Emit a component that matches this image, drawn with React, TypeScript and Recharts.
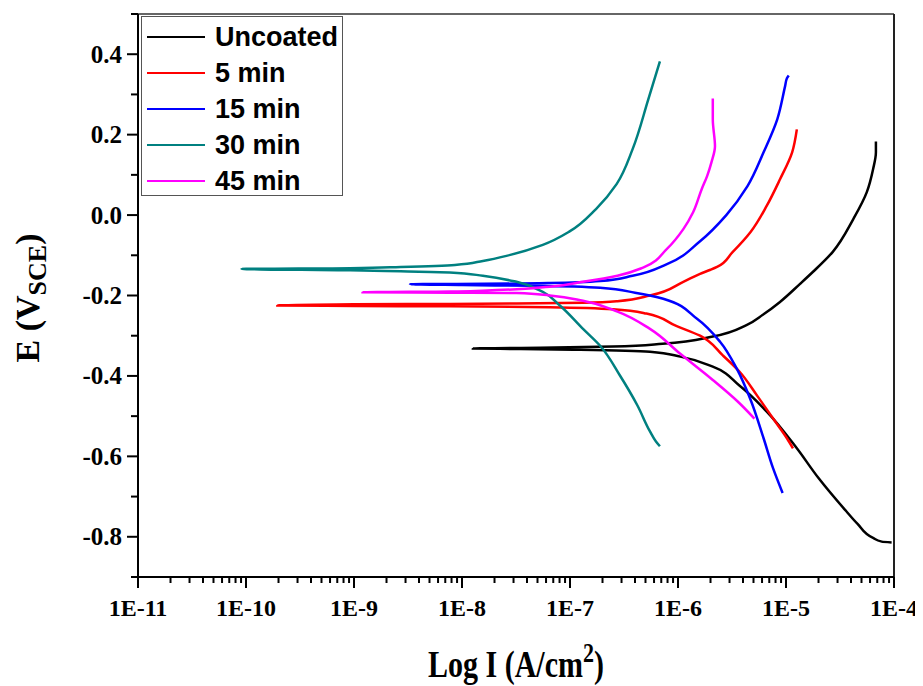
import React from "react";
import { LineChart, Line, XAxis, YAxis, ReferenceLine, Label } from "recharts";

// Tafel polarisation curves, each read as [current density (A/cm²), potential (V vs SCE)]
// order: top of anodic branch -> corrosion potential -> end of cathodic branch
type Pt = [number, number];

const uncoated: Pt[] = [
  [6.8e-5, 0.183], [6.8e-5, 0.156], [6.4e-5, 0.114], [5.6e-5, 0.057], [4.2e-5, -0.01],
  [2.7e-5, -0.092], [1.78e-5, -0.141], [1.35e-5, -0.171], [8.8e-6, -0.216], [6.1e-6, -0.248],
  [4.35e-6, -0.273], [2.1e-6, -0.302], [7.2e-7, -0.32], [2.5e-7, -0.327], [5.3e-8, -0.33],
  [1.26e-8, -0.332], [3.5e-8, -0.333], [1.24e-7, -0.335], [5.5e-7, -0.34], [1.05e-6, -0.352],
  [2.1e-6, -0.377], [3.7e-6, -0.424], [6.6e-6, -0.488], [1.26e-5, -0.58], [2.0e-5, -0.654],
  [3.6e-5, -0.736], [4.6e-5, -0.768], [6.4e-5, -0.803], [7.7e-5, -0.812], [9.5e-5, -0.814],
];

const min5: Pt[] = [
  [1.26e-5, 0.213], [1.14e-5, 0.156], [8.8e-6, 0.089], [6.6e-6, 0.022], [4.7e-6, -0.042],
  [3.2e-6, -0.092], [2.3e-6, -0.129], [2.0e-6, -0.136], [1.6e-6, -0.146], [1.12e-6, -0.166],
  [5.5e-7, -0.2], [2.75e-7, -0.214], [1.32e-7, -0.218], [3.2e-8, -0.22], [7.8e-9, -0.221],
  [1e-9, -0.222], [1.95e-10, -0.225], [1e-9, -0.226], [7.8e-9, -0.227], [6.5e-8, -0.229],
  [2.5e-7, -0.234], [5.1e-7, -0.245], [9.5e-7, -0.275], [1.6e-6, -0.3], [2.6e-6, -0.349],
  [3.7e-6, -0.389], [5.4e-6, -0.449], [7.6e-6, -0.506], [1.02e-5, -0.555], [1.16e-5, -0.58],
];

const min15: Pt[] = [
  [1.06e-5, 0.347], [1.02e-5, 0.34], [9.8e-6, 0.32], [8.3e-6, 0.238], [6.2e-6, 0.156],
  [4.4e-6, 0.072], [2.8e-6, 0.0], [1.6e-6, -0.065], [7.9e-7, -0.122], [3.8e-7, -0.151],
  [1.9e-7, -0.164], [6.5e-8, -0.169], [1.6e-8, -0.171], [3.3e-9, -0.172], [1e-8, -0.174],
  [4.6e-8, -0.176], [1.9e-7, -0.181], [4.0e-7, -0.193], [7.3e-7, -0.208], [1.5e-6, -0.258],
  [2.45e-6, -0.315], [3.5e-6, -0.382], [4.65e-6, -0.456], [6.2e-6, -0.555], [7.6e-6, -0.63],
  [9.3e-6, -0.691],
];

const min30: Pt[] = [
  [6.8e-7, 0.382], [5.3e-7, 0.287], [3.8e-7, 0.164], [2.7e-7, 0.077], [1.74e-7, 0.015],
  [1.0e-7, -0.04], [5.6e-8, -0.074], [2.8e-8, -0.099], [1.56e-8, -0.114], [8.6e-9, -0.124],
  [2.7e-9, -0.129], [9.2e-10, -0.132], [9.1e-11, -0.134], [9.2e-10, -0.1375], [2.7e-9, -0.14],
  [7.7e-9, -0.1425], [1.56e-8, -0.151], [3.2e-8, -0.166], [5.6e-8, -0.191], [8.1e-8, -0.2255],
  [1.32e-7, -0.283], [1.9e-7, -0.325], [2.9e-7, -0.399], [4.2e-7, -0.473], [5.5e-7, -0.538],
  [6.25e-7, -0.563], [6.8e-7, -0.575],
];

const min45: Pt[] = [
  [2.1e-6, 0.29], [2.1e-6, 0.238], [2.2e-6, 0.171], [2.04e-6, 0.131], [1.86e-6, 0.097],
  [1.66e-6, 0.065], [1.38e-6, 0.007], [1.12e-6, -0.035], [7.9e-7, -0.084], [4.8e-7, -0.13],
  [2.75e-7, -0.151], [1.32e-7, -0.166], [6.5e-8, -0.178], [1.55e-8, -0.188], [7.8e-9, -0.19],
  [1.2e-9, -0.192], [7.8e-9, -0.193], [3.2e-8, -0.194], [6.5e-8, -0.2], [1.32e-7, -0.213],
  [2.75e-7, -0.24], [5.5e-7, -0.283], [1.05e-6, -0.345], [2.1e-6, -0.41], [3.55e-6, -0.463],
  [5.1e-6, -0.506],
];

const seriesNames = ["Uncoated", "5 min", "15 min", "30 min", "45 min"];
const seriesColors = ["#000000", "#ff0000", "#0000ff", "#008080", "#ff00ff"];
const seriesPoints = [uncoated, min5, min15, min30, min45];

const xMajorTicks = [1e-11, 1e-10, 1e-9, 1e-8, 1e-7, 1e-6, 1e-5, 1e-4];
const xMajorLabels = ["1E-11", "1E-10", "1E-9", "1E-8", "1E-7", "1E-6", "1E-5", "1E-4"];
const xMinorSteps = [2, 3, 4, 5, 6, 7, 8, 9];

const yMajorTicks = [-0.8, -0.6, -0.4, -0.2, 0, 0.2, 0.4];
const yMinorTicks = [-0.9, -0.7, -0.5, -0.3, -0.1, 0.1, 0.3, 0.5];

const xTicks = xMajorTicks.flatMap((d, k) =>
  k < xMajorTicks.length - 1 ? [d, ...xMinorSteps.map((m) => m * d)] : [d]
);
const yTicks = [...yMajorTicks, ...yMinorTicks].sort((a, b) => a - b);

const SERIF = "'Liberation Serif', 'Times New Roman', serif";
const SANS = "'Liberation Sans', Arial, sans-serif";

const XTick = (props: any) => {
  const { x, y, payload } = props;
  const k = xMajorTicks.indexOf(payload.value);
  const major = k >= 0;
  return (
    <g>
      <line x1={x} x2={x} y1={y} y2={y + (major ? 11 : 6)} stroke="#000" strokeWidth={2} />
      {major && (
        <text x={x} y={y + 39} textAnchor="middle" fontFamily={SERIF} fontWeight="bold" fontSize={24} fill="#000">
          {xMajorLabels[k]}
        </text>
      )}
    </g>
  );
};

const YTick = (props: any) => {
  const { x, y, payload } = props;
  const major = yMajorTicks.includes(payload.value);
  return (
    <g>
      <line x1={x - (major ? 11 : 7)} x2={x} y1={y} y2={y} stroke="#000" strokeWidth={2} />
      {major && (
        <text x={x - 16} y={y} dy="0.34em" textAnchor="end" fontFamily={SERIF} fontWeight="bold" fontSize={25} fill="#000">
          {payload.value.toFixed(1)}
        </text>
      )}
    </g>
  );
};

const XTitle = (props: any) => {
  const vb = props.viewBox || { x: 130, y: 569, width: 756 };
  const cx = vb.x + vb.width / 2;
  const by = vb.y + 100;
  return (
    <text transform={`translate(${cx} ${by}) scale(1 1.25)`} textAnchor="middle" fontFamily={SERIF} fontWeight="bold" fontSize={30} fill="#000">
      Log I (A/cm
      <tspan fontSize={22} dy={-12}>2</tspan>
      <tspan dy={12}>)</tspan>
    </text>
  );
};

const YTitle = () => (
  <text x={31} y={290} transform="rotate(-90 31 290)" textAnchor="middle" fontFamily={SERIF} fontWeight="bold" fontSize={34} fill="#000">
    E (V
    <tspan fontSize={26} dy={7}>SCE</tspan>
    <tspan dy={-7}>)</tspan>
  </text>
);

export default function App() {
  return (
    <div style={{ position: "relative", width: 915, height: 678 }}>
      <LineChart width={915} height={678} margin={{ top: 6, right: 29, left: 0, bottom: 0 }}>
        <XAxis
          type="number"
          dataKey="i"
          scale="log"
          domain={[1e-11, 1e-4]}
          allowDataOverflow
          ticks={xTicks}
          interval={0}
          tickSize={0}
          tickMargin={0}
          tickLine={false}
          tick={XTick}
          axisLine={{ stroke: "#000", strokeWidth: 2 }}
          height={109}
        >
          <Label content={XTitle} />
        </XAxis>
        <YAxis
          type="number"
          domain={[-0.9, 0.5]}
          allowDataOverflow
          ticks={yTicks}
          interval={0}
          tickSize={0}
          tickMargin={0}
          tickLine={false}
          tick={YTick}
          axisLine={{ stroke: "#000", strokeWidth: 2 }}
          width={130}
        >
          <Label content={YTitle} />
        </YAxis>
        {/* box frame: top and right */}
        <ReferenceLine y={0.5} stroke="#333" strokeWidth={1.5} />
        <ReferenceLine x={1e-4} stroke="#222" strokeWidth={2} />
        {seriesNames.map((name, k) => (
          <Line
            key={name}
            name={name}
            data={seriesPoints[k].map(([i, e]) => ({ i, e }))}
            dataKey="e"
            type="monotoneY"
            stroke={seriesColors[k]}
            strokeWidth={2.5}
            dot={false}
            activeDot={false}
            isAnimationActive={false}
          />
        ))}
      </LineChart>
      <div
        style={{
          position: "absolute",
          left: 133,
          top: 8,
          width: 202,
          height: 180,
          boxSizing: "border-box",
          border: "1px solid #555",
          background: "#fff",
          paddingTop: 2,
        }}
      >
        {seriesNames.map((name, k) => (
          <div key={name} style={{ display: "flex", alignItems: "center", height: 36 }}>
            <div style={{ marginLeft: 5, width: 58, height: 2.5, background: seriesColors[k] }} />
            <span style={{ marginLeft: 10, fontFamily: SANS, fontWeight: "bold", fontSize: 27, lineHeight: "36px", color: "#000" }}>
              {name}
            </span>
          </div>
        ))}
      </div>
    </div>
  );
}
